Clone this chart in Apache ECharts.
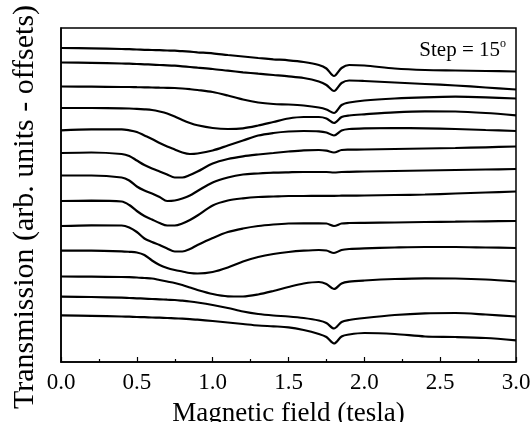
<!DOCTYPE html>
<html>
<head>
<meta charset="utf-8">
<script src="https://cdn.jsdelivr.net/npm/echarts@6.0.0/dist/echarts.min.js"></script>
<style>
  html, body { margin: 0; padding: 0; background: #fff; }
  #chart { width: 532px; height: 422px; }
</style>
</head>
<body>
<div id="chart"></div>
<script>
// magnetic field (tesla), shared by all traces
const field = [0, 0.2, 0.4, 0.45, 0.5, 0.55, 0.6, 0.65, 0.7, 0.75, 0.8, 0.85, 0.9, 1.0, 1.1, 1.2,
  1.3, 1.4, 1.5, 1.6, 1.7, 1.75, 1.8, 1.85, 1.9, 2.0, 2.2, 2.4, 2.6, 2.8, 3.0];

// transmission (arb. units, offsets included), top trace first
const curve01 = [31.40, 31.37, 31.30, 31.28, 31.25, 31.22, 31.20, 31.18, 31.15, 31.13, 31.08, 31.03, 30.97, 30.87, 30.70, 30.55,
  30.40, 30.27, 30.17, 30.00, 29.70, 29.35, 28.60, 29.40, 29.70, 29.65, 29.35, 29.20, 29.15, 29.10, 29.05];
const curve02 = [29.95, 29.92, 29.85, 29.83, 29.80, 29.77, 29.74, 29.70, 29.67, 29.63, 29.57, 29.50, 29.43, 29.30, 29.13, 28.97,
  28.83, 28.70, 28.57, 28.40, 28.05, 27.70, 27.10, 27.90, 28.15, 28.10, 27.95, 27.80, 27.65, 27.45, 27.25];
const curve03 = [27.55, 27.53, 27.50, 27.50, 27.48, 27.47, 27.45, 27.43, 27.42, 27.40, 27.35, 27.28, 27.20, 27.00, 26.65, 26.25,
  25.95, 25.80, 25.75, 25.65, 25.45, 25.25, 24.90, 25.70, 25.95, 26.15, 26.35, 26.47, 26.53, 26.47, 26.35];
const curve04 = [25.40, 25.40, 25.37, 25.35, 25.32, 25.27, 25.20, 25.05, 24.85, 24.55, 24.20, 23.90, 23.67, 23.40, 23.30, 23.37,
  23.65, 24.00, 24.35, 24.50, 24.50, 24.35, 23.90, 24.50, 24.65, 24.77, 24.97, 25.07, 25.05, 24.90, 24.67];
const curve05 = [23.17, 23.27, 23.27, 23.17, 23.00, 22.65, 22.30, 21.90, 21.55, 21.25, 20.95, 20.80, 20.85, 21.15, 21.65, 22.15,
  22.65, 22.90, 23.05, 23.10, 23.07, 22.95, 22.65, 23.15, 23.30, 23.37, 23.40, 23.37, 23.30, 23.20, 23.10];
const curve06 = [20.90, 20.95, 20.80, 20.60, 20.15, 19.70, 19.35, 19.05, 18.75, 18.45, 18.45, 18.70, 19.05, 19.85, 20.30, 20.57,
  20.75, 20.90, 21.05, 21.17, 21.20, 21.13, 20.95, 21.20, 21.23, 21.25, 21.30, 21.35, 21.40, 21.47, 21.55];
const curve07 = [18.65, 18.65, 18.45, 18.15, 17.55, 17.15, 16.85, 16.50, 16.10, 16.15, 16.35, 16.65, 17.10, 17.95, 18.45, 18.75,
  18.85, 18.93, 18.97, 19.00, 19.00, 19.00, 18.95, 19.00, 19.02, 19.05, 19.10, 19.15, 19.20, 19.25, 19.30];
const curve08 = [16.10, 16.13, 16.05, 15.70, 15.10, 14.60, 14.25, 13.90, 13.65, 13.65, 13.85, 14.20, 14.65, 15.65, 16.15, 16.37,
  16.50, 16.55, 16.60, 16.60, 16.62, 16.62, 16.62, 16.63, 16.64, 16.65, 16.70, 16.75, 16.85, 16.95, 17.05];
const curve09 = [13.60, 13.67, 13.65, 13.45, 13.00, 12.35, 12.00, 11.70, 11.35, 11.05, 11.05, 11.30, 11.70, 12.40, 13.00, 13.35,
  13.60, 13.75, 13.85, 13.87, 13.87, 13.85, 13.60, 13.85, 13.90, 13.92, 13.95, 14.00, 14.03, 14.07, 14.10];
const curve10 = [11.13, 11.13, 11.07, 11.02, 10.95, 10.70, 10.15, 9.70, 9.40, 9.20, 9.05, 8.90, 8.85, 9.00, 9.45, 10.05,
  10.50, 10.80, 11.00, 11.13, 11.20, 11.15, 10.90, 11.20, 11.30, 11.37, 11.45, 11.50, 11.50, 11.45, 11.40];
const curve11 = [8.55, 8.53, 8.50, 8.48, 8.45, 8.40, 8.35, 8.20, 8.05, 7.90, 7.70, 7.45, 7.20, 6.80, 6.57, 6.55,
  6.75, 7.10, 7.50, 7.85, 8.00, 7.80, 7.30, 7.85, 8.03, 8.15, 8.30, 8.37, 8.35, 8.25, 8.05];
const curve12 = [6.53, 6.50, 6.43, 6.40, 6.37, 6.34, 6.30, 6.27, 6.23, 6.20, 6.13, 6.05, 5.95, 5.70, 5.40, 5.05,
  4.80, 4.65, 4.55, 4.40, 4.15, 3.90, 3.35, 4.00, 4.20, 4.40, 4.70, 4.87, 4.90, 4.75, 4.55];
const curve13 = [4.67, 4.62, 4.55, 4.53, 4.50, 4.48, 4.45, 4.43, 4.40, 4.37, 4.33, 4.28, 4.23, 4.10, 3.95, 3.80,
  3.65, 3.57, 3.47, 3.20, 2.80, 2.50, 1.85, 2.55, 2.75, 2.90, 2.80, 2.55, 2.50, 2.40, 2.17];

const curves = [curve01, curve02, curve03, curve04, curve05, curve06, curve07,
  curve08, curve09, curve10, curve11, curve12, curve13];

const xTickLabels = ['0.0', '0.5', '1.0', '1.5', '2.0', '2.5', '3.0'];

const serif = "'Liberation Serif', 'Times New Roman', serif";

const chart = echarts.init(document.getElementById('chart'), null, { renderer: 'canvas' });

const option = {
  backgroundColor: '#fff',
  animation: false,
  grid: {
    left: 61,
    right: 16,
    top: 28,
    bottom: 60,
    show: true,
    borderColor: '#000',
    borderWidth: 1.5,
    outerBoundsMode: 'none'
  },
  xAxis: {
    type: 'value',
    min: 0,
    max: 3,
    interval: 0.5,
    name: 'Magnetic field (tesla)',
    nameLocation: 'middle',
    nameGap: 38,
    nameTextStyle: { fontFamily: serif, fontSize: 27, color: '#000' },
    axisLine: { lineStyle: { color: '#000', width: 1.5 } },
    axisTick: { inside: true, length: 5, lineStyle: { color: '#000', width: 1.2 } },
    minorTick: { show: true, splitNumber: 2, length: 3, lineStyle: { color: '#000', width: 1.2 } },
    axisLabel: {
      fontFamily: serif,
      fontSize: 23,
      color: '#000',
      margin: 9,
      formatter: v => xTickLabels[Math.round(v / 0.5)]
    },
    splitLine: { show: false }
  },
  yAxis: {
    type: 'value',
    min: 0,
    max: 33.4,
    axisLine: { show: true, lineStyle: { color: '#000', width: 1.5 } },
    axisTick: { show: false },
    axisLabel: { show: false },
    splitLine: { show: false }
  },
  graphic: [
    {
      type: 'text',
      x: 25,
      y: 207,
      rotation: Math.PI / 2,
      style: {
        text: 'Transmission (arb. units - offsets)',
        fontFamily: serif,
        fontSize: 30,
        fill: '#000',
        align: 'center',
        verticalAlign: 'middle'
      }
    },
    {
      type: 'text',
      right: 26,
      top: 38,
      style: {
        text: '{a|Step = 15}{b|o}',
        fill: '#000',
        rich: {
          a: { fontFamily: serif, fontSize: 21, lineHeight: 23, verticalAlign: 'bottom' },
          b: { fontFamily: serif, fontSize: 12, lineHeight: 23, verticalAlign: 'top' }
        }
      }
    }
  ],
  series: curves.map((vals, k) => ({
    type: 'line',
    name: 'trace ' + (k + 1),
    data: field.map((b, i) => [b, vals[i]]),
    showSymbol: false,
    smooth: 0.3,
    lineStyle: { color: '#000', width: 2.2 },
    emphasis: { disabled: true }
  }))
};

chart.setOption(option);
</script>
</body>
</html>
